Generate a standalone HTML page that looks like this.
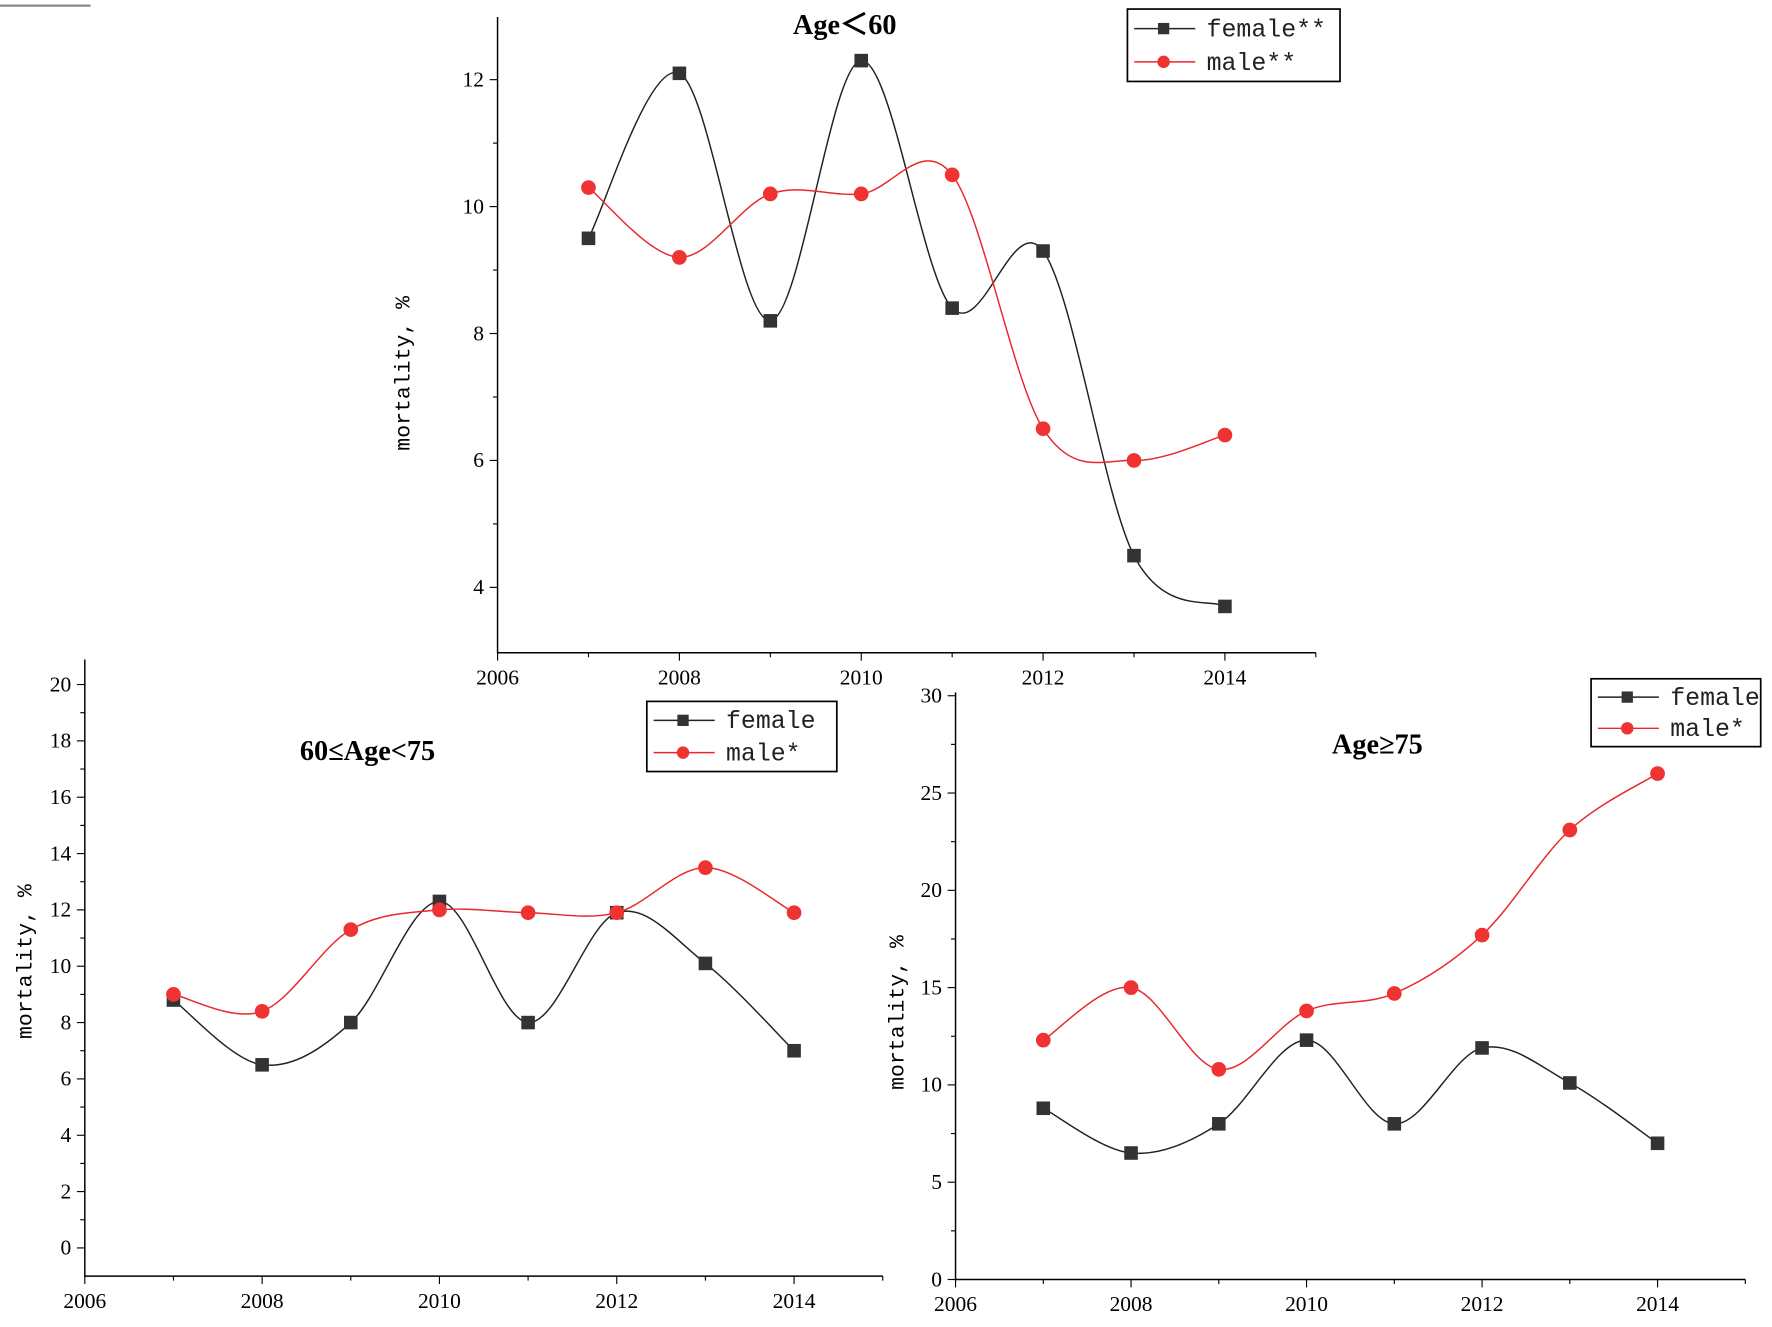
<!DOCTYPE html>
<html><head><meta charset="utf-8"><style>
html,body{margin:0;padding:0;background:#fff;}
svg{display:block;}
text{font-family:"Liberation Serif",serif;}
text.mono{font-family:"Liberation Mono",monospace;}
</style></head><body>
<svg id="svg" width="1772" height="1327" viewBox="0 0 1567 1173" preserveAspectRatio="none" xmlns="http://www.w3.org/2000/svg">
<line x1="0" y1="5" x2="80" y2="5" stroke="#888" stroke-width="2"/>
</svg>
<script>
const years = [2007,2008,2009,2010,2011,2012,2013,2014];
const femaleA = [9.5,12.1,8.2,12.3,8.4,9.3,4.5,3.7];
const maleA = [10.3,9.2,10.2,10.2,10.5,6.5,6.0,6.4];
const femaleB = [8.8,6.5,8.0,12.3,8.0,11.9,10.1,7.0];
const maleB = [9.0,8.4,11.3,12.0,11.9,11.9,13.5,11.9];
const femaleC = [8.8,6.5,8.0,12.3,8.0,11.9,10.1,7.0];
const maleC = [12.3,15.0,10.8,13.8,14.7,17.7,23.1,26.0];
const xTicks = [2006,2008,2010,2012,2014];
const yTicksA = [4,6,8,10,12];
const yTicksB = [0,2,4,6,8,10,12,14,16,18,20];
const yTicksC = [0,5,10,15,20,25,30];

const svg=document.getElementById('svg');
const NS='http://www.w3.org/2000/svg';
function mk(tag,attrs,parent){const e=document.createElementNS(NS,tag);for(const k in attrs)e.setAttribute(k,attrs[k]);(parent||svg).appendChild(e);return e;}
function spline(pts){let d='M'+pts[0][0]+','+pts[0][1];for(let i=0;i<pts.length-1;i++){const p0=pts[Math.max(0,i-1)],p1=pts[i],p2=pts[i+1],p3=pts[Math.min(pts.length-1,i+2)];const c1x=p1[0]+(p2[0]-p0[0])/6,c1y=p1[1]+(p2[1]-p0[1])/6,c2x=p2[0]-(p3[0]-p1[0])/6,c2y=p2[1]-(p3[1]-p1[1])/6;d+=' C'+c1x+','+c1y+' '+c2x+','+c2y+' '+p2[0]+','+p2[1];}return d;}

function chart(o){
  const g=mk('g',{});
  
  
  const X=v=>o.x0+(v-2006)*o.xs, Y=v=>o.yb-(v-o.ymin)*o.ys;
  const ax=mk('path',{d:`M${o.x0},${o.ytop} L${o.x0},${o.yb} L${X(2015)},${o.yb}`,fill:'none',stroke:'#000','stroke-width':1.3},g);
  
  
  for(let yv=2006;yv<=2015;yv++){mk('line',{x1:X(yv),x2:X(yv),y1:o.yb,y2:o.yb+(yv%2==0?7:4),stroke:'#000'},g);}
  xTicks.forEach(v=>{const t=mk('text',{x:X(v),y:o.yb+28,'text-anchor':'middle','font-size':19},g);t.textContent=v;
    
    });
  const st=o.yt[1]-o.yt[0];
  for(let v=o.yt[0];v<=o.yt[o.yt.length-1];v+=st/2){mk('line',{x1:o.x0,x2:o.x0-( (Math.round((v-o.yt[0])/st*2)%2==0)?7:4),y1:Y(v),y2:Y(v),stroke:'#000'},g);}
  o.yt.forEach(v=>{const t=mk('text',{x:o.x0-12,y:Y(v)+6,'text-anchor':'end','font-size':19},g);t.textContent=v;
    
    });
  const yl=mk('text',{x:0,y:0,transform:`translate(${o.ylx},${o.yly}) rotate(-90)`,'text-anchor':'middle','font-size':19,'class':'mono'},g);
  yl.textContent='mortality, %';
  
  
  const ti=mk('text',{x:o.tx,y:o.ty,'text-anchor':'middle','font-size':25,'font-weight':'bold'},g);ti.textContent=o.title;
  
  
  [[o.f,'#333','f'],[o.m,'#e8282d','m']].forEach(([arr,col,k])=>{
    const pts=arr.map((v,i)=>[X(years[i]),Y(v)]);
    const p=mk('path',{d:spline(pts),fill:'none',stroke:k=='f'?'#222':'#e8282d','stroke-width':1.3},g);
    
    
    pts.forEach(pt=>{let e;
      if(k=='f'){e=mk('rect',{x:pt[0]-6,y:pt[1]-6,width:12,height:12,fill:'#333'},g);}
      else{e=mk('circle',{cx:pt[0],cy:pt[1],r:6.5,fill:'#ef3333'},g);}
      
      });
  });
  const L=o.leg;
  const lb=mk('rect',{x:L[0],y:L[1],width:L[2],height:L[3],fill:'#fff',stroke:'#000','stroke-width':1.5},g);
  
  
  [[o.lf,'#222',0],[o.lm,'#e8282d',1]].forEach(([lab,col,i])=>{
    const cy=L[1]+L[3]*(i==0?0.27:0.73);
    mk('line',{x1:L[0]+6,x2:L[0]+60,y1:cy,y2:cy,stroke:col,'stroke-width':1.3},g);
    if(i==0)mk('rect',{x:L[0]+27,y:cy-5,width:10,height:10,fill:'#333'},g);else mk('circle',{cx:L[0]+32,cy:cy,r:5.5,fill:'#ef3333'},g);
    const t=mk('text',{x:L[0]+70,y:cy+7,'font-size':22,'class':'mono',fill:'#222'},g);t.textContent=lab;
    
    
  });
}
chart({name:'chart-age-under-60',x0:440,xs:80.4,yb:577,ytop:15,ymin:2.97,ys:56.1,yt:yTicksA,f:femaleA,m:maleA,title:'Age＜60',tx:747,ty:30,ylx:362,yly:330,leg:[997,8,188,64],lf:'female**',lm:'male**'});
chart({name:'chart-age-60-75',x0:75,xs:78.4,yb:1128,ytop:583,ymin:-1,ys:24.9,yt:yTicksB,f:femaleB,m:maleB,title:'60≤Age<75',tx:325,ty:672,ylx:28,yly:850,leg:[572,620,168,62],lf:'female',lm:'male*'});
chart({name:'chart-age-over-75',x0:845,xs:77.6,yb:1131,ytop:612,ymin:0,ys:17.2,yt:yTicksC,f:femaleC,m:maleC,title:'Age≥75',tx:1218,ty:666,ylx:799,yly:895,leg:[1407,600,150,60],lf:'female',lm:'male*'});
</script>
</body></html>
